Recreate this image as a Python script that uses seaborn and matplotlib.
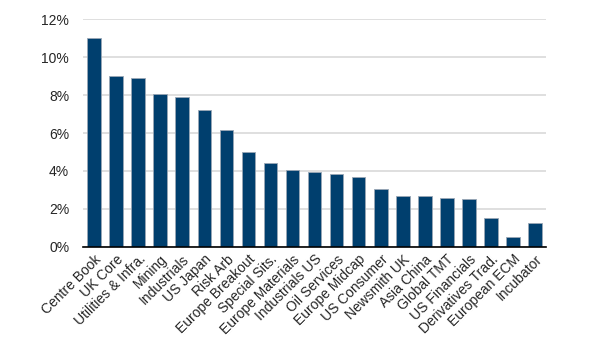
import numpy as np
import pandas as pd
import matplotlib
matplotlib.use("Agg")
import matplotlib.pyplot as plt
from matplotlib.ticker import PercentFormatter, FixedLocator
import seaborn as sns

strategies = ["Centre Book", "UK Core", "Utilities & Infra.", "Mining", "Industrials",
              "US Japan", "Risk Arb", "Europe Breakout", "Special Sits.", "Europe Materials",
              "Industrials US", "Oil Services", "Europe Midcap", "US Consumer", "Newsmith UK",
              "Asia China", "Global TMT", "US Financials", "Derivatives Trad.", "European ECM",
              "Incubator"]
values = [11.0, 9.0, 8.92, 8.06, 7.92, 7.23, 6.15, 5.0, 4.42, 4.03,
          3.96, 3.84, 3.70, 3.03, 2.68, 2.66, 2.59, 2.53, 1.50, 0.53, 1.24]

df = pd.DataFrame({"strategy": strategies, "value": values})

sns.set_style("white")
plt.rcParams['font.family'] = ['Liberation Sans', 'DejaVu Sans']

fig = plt.figure(figsize=(5.98, 3.54), dpi=100)
ax = fig.add_axes([0.139, 0.303, 0.774, 0.642])

sns.barplot(data=df, x="strategy", y="value", color="#003F6E", width=0.62,
            edgecolor="#9aa7b5", linewidth=0.6, saturation=1, ax=ax)

ax.set_ylim(0, 12)
ax.set_xlim(-0.5, len(strategies) - 0.5)
ax.yaxis.set_major_formatter(PercentFormatter(decimals=0))
ax.set_yticks(np.arange(0, 13, 2))
ax.grid(axis="y", color="#d9d9d9", linewidth=1.2)
ax.set_axisbelow(True)
for s in ["left", "right", "top"]:
    ax.spines[s].set_visible(False)
ax.spines["bottom"].set_color("black")
ax.spines["bottom"].set_linewidth(1.2)

ax.set_xlabel("")
ax.set_ylabel("")
ax.tick_params(axis="y", length=0, labelsize=10, pad=10)
ax.tick_params(axis="x", which="major", length=0, labelsize=10, pad=4)
ax.xaxis.set_minor_locator(FixedLocator(np.arange(-0.5, len(strategies), 1)))
ax.tick_params(axis="x", which="minor", length=4, width=1, color="#444444", direction="out")
plt.setp(ax.get_xticklabels(), rotation=45, ha="right", rotation_mode="anchor")

fig.savefig("out.png", dpi=100)
